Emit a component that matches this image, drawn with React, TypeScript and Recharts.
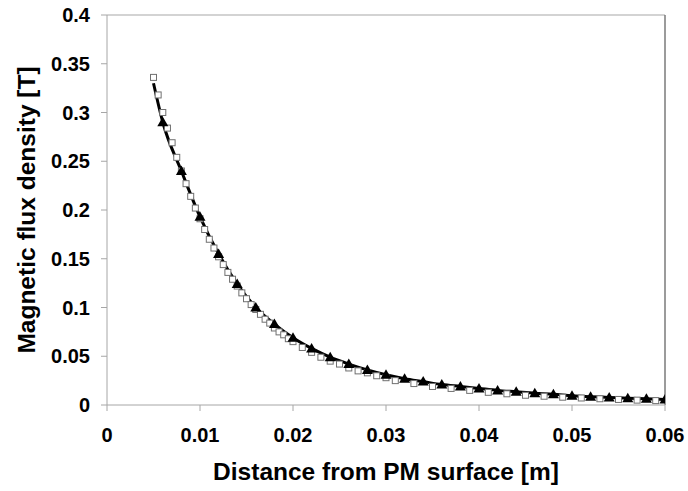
import { ComposedChart, Line, Scatter, XAxis, YAxis, ReferenceLine } from "recharts"

// analytical curve (solid line) and the points marked with triangles
const curveX = [
  0.005, 0.006, 0.008, 0.01, 0.012, 0.014, 0.016, 0.018, 0.02, 0.022, 0.024, 0.026, 0.028, 0.03, 0.032,
  0.034, 0.036, 0.038, 0.04, 0.042, 0.044, 0.046, 0.048, 0.05, 0.052, 0.054, 0.056, 0.058, 0.06,
]
const curveB = [
  0.33, 0.29, 0.24, 0.193, 0.155, 0.124, 0.1, 0.083, 0.069, 0.058, 0.049, 0.042, 0.036, 0.031, 0.027,
  0.024, 0.021, 0.019, 0.017, 0.015, 0.0135, 0.012, 0.011, 0.0095, 0.0085, 0.0078, 0.007, 0.0063, 0.0057,
]

// FEM results (hollow squares)
const femX = [
  0.005, 0.0055, 0.006, 0.0065, 0.007, 0.0075, 0.008, 0.0085, 0.009, 0.0095, 0.01, 0.0105, 0.011, 0.0115,
  0.012, 0.0125, 0.013, 0.0135, 0.014, 0.0145, 0.015, 0.0155, 0.016, 0.0165, 0.017, 0.0175, 0.018, 0.0185,
  0.019, 0.0195, 0.02, 0.021, 0.022, 0.023, 0.024, 0.025, 0.026, 0.027, 0.028, 0.029, 0.03, 0.031, 0.033,
  0.035, 0.037, 0.039, 0.041, 0.043, 0.045, 0.047, 0.049, 0.051, 0.053, 0.055, 0.057, 0.059,
]
const femB = [
  0.336, 0.318, 0.3, 0.284, 0.269, 0.254, 0.24, 0.227, 0.214, 0.202, 0.191, 0.18, 0.17, 0.161,
  0.152, 0.144, 0.136, 0.129, 0.122, 0.115, 0.109, 0.103, 0.098, 0.093, 0.088, 0.084, 0.079, 0.075,
  0.072, 0.068, 0.065, 0.059, 0.054, 0.049, 0.045, 0.042, 0.038, 0.035, 0.033, 0.03, 0.028, 0.025, 0.022,
  0.019, 0.017, 0.015, 0.013, 0.0115, 0.01, 0.009, 0.008, 0.0072, 0.0064, 0.0057, 0.005, 0.0045,
]

const xTicks = [0, 0.01, 0.02, 0.03, 0.04, 0.05, 0.06]
const yTicks = [0, 0.05, 0.1, 0.15, 0.2, 0.25, 0.3, 0.35, 0.4]

const curveData = curveX.map((x, i) => ({ x, b: curveB[i] }))
const triangleData = curveData.slice(1)
const femData = femX.map((x, i) => ({ x, b: femB[i] }))

const font = "'Liberation Sans', Arial, sans-serif"
const tickStyle = { fill: "#000", fontSize: 20, fontWeight: "bold", fontFamily: font }
const axisGrey = "#a6a6a6"

const Square = (props: any) => (
  <rect x={props.cx - 3} y={props.cy - 3} width={6} height={6} fill="#fff" stroke="#707070" strokeWidth={1} />
)

const Triangle = (props: any) => {
  const { cx, cy } = props
  return <polygon points={`${cx},${cy - 5.5} ${cx + 5.5},${cy + 4} ${cx - 5.5},${cy + 4}`} fill="#000" />
}

export default function App() {
  return (
    <div style={{ position: "absolute", left: 0, top: 0, width: 688, height: 491, background: "#fff" }}>
      <ComposedChart width={688} height={491} margin={{ top: 15, right: 23, bottom: 0, left: 0 }}>
        <XAxis
          dataKey="x"
          type="number"
          domain={[0, 0.06]}
          ticks={xTicks}
          tickFormatter={(v) => String(v)}
          height={86}
          stroke={axisGrey}
          tickSize={6}
          tickMargin={17}
          tick={tickStyle}
          allowDataOverflow
          label={{
            content: () => (
              <text x={386} y={480} textAnchor="middle" fontSize={24.5} fontWeight="bold" fontFamily={font} fill="#000">
                Distance from PM surface [m]
              </text>
            ),
          }}
        />
        <YAxis
          type="number"
          domain={[0, 0.4]}
          ticks={yTicks}
          tickFormatter={(v) => String(v)}
          width={107}
          stroke={axisGrey}
          tickSize={6}
          tickMargin={11}
          tick={tickStyle}
          allowDataOverflow
          label={{
            content: () => (
              <text
                x={35}
                y={210}
                transform="rotate(-90, 35, 210)"
                textAnchor="middle"
                fontSize={24.5}
                fontWeight="bold"
                fontFamily={font}
                fill="#000"
              >
                Magnetic flux density [T]
              </text>
            ),
          }}
        />
        <ReferenceLine y={0.4} stroke="#c4c4c4" strokeWidth={1.5} />
        <ReferenceLine x={0.06} stroke="#7a7a7a" strokeWidth={1.5} />
        <Scatter data={femData} dataKey="b" shape={Square} isAnimationActive={false} />
        <Line
          data={curveData}
          dataKey="b"
          type="monotone"
          stroke="#000"
          strokeWidth={3}
          dot={false}
          activeDot={false}
          isAnimationActive={false}
        />
        <Scatter data={triangleData} dataKey="b" shape={Triangle} isAnimationActive={false} />
      </ComposedChart>
    </div>
  )
}
